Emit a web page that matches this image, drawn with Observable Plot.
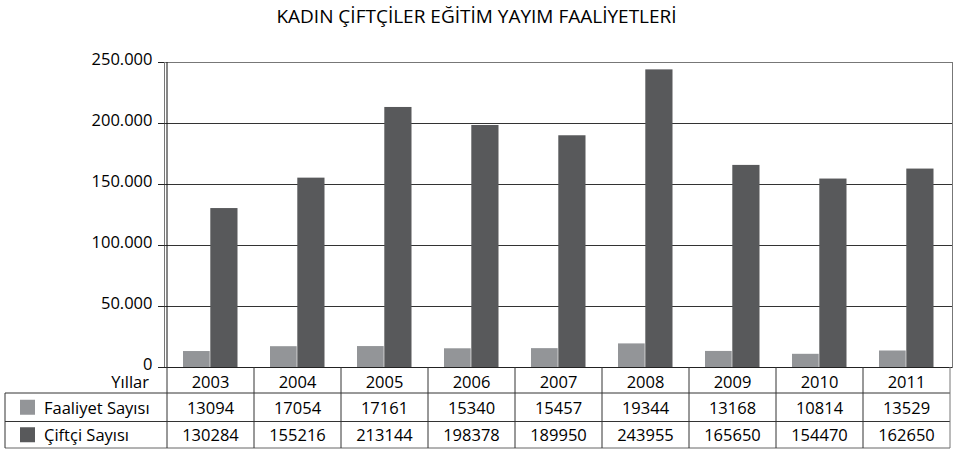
<!DOCTYPE html>
<html>
<head>
<meta charset="utf-8">
<script src="https://cdn.jsdelivr.net/npm/d3@7"></script>
<script src="https://cdn.jsdelivr.net/npm/@observablehq/plot@0.6"></script>
<style>
  html, body { margin: 0; padding: 0; background: #fff; }
  #wrap { position: relative; width: 953px; height: 451px; font-family: "Open Sans", sans-serif; color: #000; }
  #title { position: absolute; left: 0; top: 2px; width: 953px; text-align: center; font-size: 19px; line-height: 28px; }
  #plot { position: absolute; left: 0; top: 40px; }
  #table { position: absolute; left: 0; top: 0; pointer-events: none; }
</style>
</head>
<body>
<div id="wrap">
  <div id="title">KADIN ÇİFTÇİLER EĞİTİM YAYIM FAALİYETLERİ</div>
  <div id="plot"></div>
  <svg id="table" width="953" height="451"></svg>
</div>
<script>
const years = ["2003", "2004", "2005", "2006", "2007", "2008", "2009", "2010", "2011"];
const faaliyet = [13094, 17054, 17161, 15340, 15457, 19344, 13168, 10814, 13529];
const ciftci = [130284, 155216, 213144, 198378, 189950, 243955, 165650, 154470, 162650];
const seriesNames = ["Faaliyet Sayısı", "Çiftçi Sayısı"];
const seriesColors = ["#939598", "#58595b"];
const yTicks = [0, 50000, 100000, 150000, 200000, 250000];
const rowHeader = "Yıllar";

const data = years.map((year, i) => ({ year, faaliyet: faaliyet[i], ciftci: ciftci[i] }));
const trFormat = d3.formatLocale({ decimal: ",", thousands: ".", grouping: [3], currency: ["", ""] }).format(",d");
const font = "Open Sans, sans-serif";
const fs = "16.5px";

const chart = Plot.plot({
  width: 953,
  height: 340,
  marginLeft: 164,
  marginRight: 1,
  marginTop: 22,
  marginBottom: 13,
  style: { fontFamily: font, fontSize: fs, color: "#000", background: "transparent", overflow: "visible" },
  x: { domain: years, padding: 0, axis: null },
  y: { domain: [0, 250000], axis: null },
  marks: [
    Plot.frame({ stroke: "#777" }),
    Plot.ruleY(yTicks.slice(1, -1), { stroke: "#333" }),
    Plot.barY(data, { x: "year", y: "faaliyet", fill: seriesColors[0], insetLeft: 16, insetRight: 44.3 }),
    Plot.barY(data, { x: "year", y: "ciftci", fill: seriesColors[1], insetLeft: 43.3, insetRight: 16.5 }),
    Plot.ruleY([0], { stroke: "#222" }),
    Plot.axisY({ ticks: yTicks, tickSize: 6, tickFormat: () => "", stroke: "#222" }),
    Plot.text(yTicks, { y: d => d, text: d => trFormat(d), frameAnchor: "left", textAnchor: "end", dx: -12, dy: -3, fill: "#000" })
  ]
});
document.getElementById("plot").appendChild(chart);

// data table below the chart, aligned to the x scale
const xs = chart.scale("x");
const bw = xs.bandwidth;
const edges = years.map(y => xs.apply(y)).concat([xs.apply(years[years.length - 1]) + bw]);
const svg = d3.select("#table");
const yTop = 367, y1 = 393, y2 = 421.5, y3 = 448, xLeft = 5, xRight = edges[edges.length - 1];
const line = "#333";
// left axis line of the plot area
svg.append("line").attr("x1", edges[0]).attr("x2", edges[0]).attr("y1", 62).attr("y2", yTop).attr("stroke", "#111");
// horizontal lines
[y1, y2].forEach(y => svg.append("line").attr("x1", xLeft).attr("x2", xRight).attr("y1", y).attr("y2", y).attr("stroke", line));
svg.append("line").attr("x1", xLeft).attr("x2", xRight).attr("y1", y3).attr("y2", y3).attr("stroke", "#666");
// left border
svg.append("line").attr("x1", xLeft).attr("x2", xLeft).attr("y1", y1).attr("y2", y3).attr("stroke", line);
// vertical column separators
edges.forEach((x, i) => {
  svg.append("line").attr("x1", x).attr("x2", x).attr("y1", yTop).attr("y2", y3)
    .attr("stroke", i === edges.length - 1 ? "#777" : line);
});
// header row
svg.append("text").attr("x", 149).attr("y", (yTop + y1) / 2 + 1).attr("text-anchor", "end")
  .attr("dominant-baseline", "central").attr("font-family", font).attr("font-size", fs).attr("fill", "#000").text(rowHeader);
years.forEach((yr, i) => {
  svg.append("text").attr("x", edges[i] + bw / 2).attr("y", (yTop + y1) / 2 + 1).attr("text-anchor", "middle")
    .attr("dominant-baseline", "central").attr("font-family", font).attr("font-size", fs).attr("fill", "#000").text(yr);
});
// series rows
const rows = [faaliyet, ciftci];
const rowCenters = [(y1 + y2) / 2, (y2 + y3) / 2];
rows.forEach((vals, r) => {
  const cy = rowCenters[r];
  svg.append("rect").attr("x", 20).attr("y", cy - 7.5).attr("width", 15).attr("height", 15).attr("fill", seriesColors[r]);
  svg.append("text").attr("x", 44).attr("y", cy).attr("dominant-baseline", "central")
    .attr("font-family", font).attr("font-size", fs).attr("fill", "#000").text(seriesNames[r]);
  vals.forEach((v, i) => {
    svg.append("text").attr("x", edges[i] + bw / 2).attr("y", cy).attr("text-anchor", "middle")
      .attr("dominant-baseline", "central").attr("font-family", font).attr("font-size", fs).attr("fill", "#000").text(String(v));
  });
});
</script>
</body>
</html>
